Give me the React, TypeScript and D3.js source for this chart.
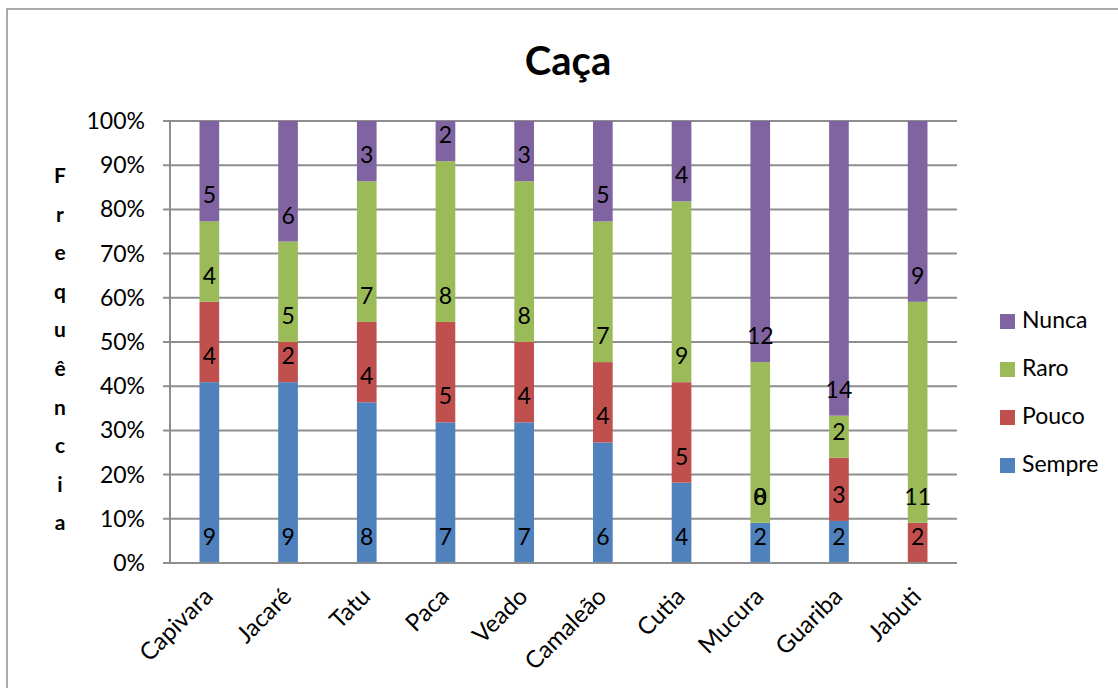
import React from "react";
import * as d3 from "d3";

// Hunting frequency per animal (counts of respondents)
const categories = ["Capivara", "Jacaré", "Tatu", "Paca", "Veado", "Camaleão", "Cutia", "Mucura", "Guariba", "Jabuti"];
const sempre: (number | null)[] = [9, 9, 8, 7, 7, 6, 4, 2, 2, null];
const pouco: (number | null)[] = [4, 2, 4, 5, 4, 4, 5, 0, 3, 2];
const raro: (number | null)[] = [4, 5, 7, 8, 8, 7, 9, 8, 2, 11];
const nunca: (number | null)[] = [5, 6, 3, 2, 3, 5, 4, 12, 14, 9];
const seriesNames = ["Sempre", "Pouco", "Raro", "Nunca"];
const seriesColors = ["#4F81BD", "#C0504D", "#9BBB59", "#8064A2"];
const yTicks = [0, 0.1, 0.2, 0.3, 0.4, 0.5, 0.6, 0.7, 0.8, 0.9, 1];
const title = "Caça";
const yTitle = "Frequência";

const W = 1118;
const H = 688;
const FONT = "Lato, 'Open Sans', sans-serif";
const GRID = "#8e8e8e";

export default function App() {
  const plot = { left: 170, right: 957, top: 121, bottom: 563 };

  const seriesValues = [sempre, pouco, raro, nunca];
  const rows = categories.map((c, i) => {
    const r: Record<string, any> = { cat: c };
    seriesNames.forEach((s, k) => (r[s] = seriesValues[k][i] ?? 0));
    return r;
  });
  const stacked = d3.stack<any>().keys(seriesNames).offset(d3.stackOffsetExpand)(rows);

  const x = d3.scaleBand<string>().domain(categories).range([plot.left, plot.right]).paddingInner(0.75).paddingOuter(0.375);
  const y = d3.scaleLinear().domain([0, 1]).range([plot.bottom, plot.top]);
  const pct = d3.format(".0%");

  return (
    <svg width={W} height={H} style={{ position: "absolute", left: 0, top: 0, background: "#fff" }} fontFamily={FONT}>
      {/* chart frame */}
      <path d={`M7,${H} V9 H${W}`} fill="none" stroke={GRID} strokeWidth={1.5} />

      <text x={568} y={75} textAnchor="middle" fontSize={40} fontWeight="bold" fill="#000">{title}</text>

      {/* gridlines and y ticks */}
      {yTicks.map((t) => (
        <g key={t}>
          <line x1={plot.left - 7} x2={plot.right} y1={y(t)} y2={y(t)} stroke={GRID} strokeWidth={2} />
          <text x={145} y={y(t) + 8} textAnchor="end" fontSize={23} fill="#000">{pct(t)}</text>
        </g>
      ))}
      <line x1={plot.left} x2={plot.left} y1={plot.top} y2={plot.bottom} stroke={GRID} strokeWidth={2} />

      {/* y axis title, letters stacked vertically */}
      {Array.from(yTitle).map((ch, i) => (
        <text key={i} x={60} y={183 + i * 38.6} textAnchor="middle" fontSize={21} fontWeight="bold" fill="#000">{ch}</text>
      ))}

      {/* bars */}
      {stacked.map((layer, k) => (
        <g key={layer.key} fill={seriesColors[k]}>
          {layer.map((d, i) => (
            <rect key={i} x={x(categories[i])} width={x.bandwidth()} y={y(d[1])} height={Math.max(0, y(d[0]) - y(d[1]))} />
          ))}
        </g>
      ))}

      {/* value labels, placed at the base of each segment */}
      {stacked.map((layer, k) => (
        <g key={layer.key + "-lbl"}>
          {layer.map((d, i) => {
            const v = seriesValues[k][i];
            if (v === null) return null;
            return (
              <text key={i} x={(x(categories[i]) ?? 0) + x.bandwidth() / 2} y={y(d[0]) - 18} textAnchor="middle" fontSize={23} fill="#000">{v}</text>
            );
          })}
        </g>
      ))}

      {/* category axis */}
      <line x1={plot.left} x2={plot.right} y1={plot.bottom} y2={plot.bottom} stroke={GRID} strokeWidth={2} />
      {categories.map((c) => {
        const cx = (x(c) ?? 0) + x.bandwidth() / 2 + 5;
        const cy = plot.bottom + 35;
        return (
          <text key={c} x={cx} y={cy} transform={`rotate(-45 ${cx} ${cy})`} textAnchor="end" fontSize={24} fill="#000">{c}</text>
        );
      })}

      {/* legend */}
      {seriesNames.slice().reverse().map((s, j) => {
        const k = seriesNames.length - 1 - j;
        const top = 314 + j * 48;
        return (
          <g key={s}>
            <rect x={1000} y={top} width={15} height={15} fill={seriesColors[k]} />
            <text x={1022} y={top + 14} fontSize={23} fill="#000">{s}</text>
          </g>
        );
      })}
    </svg>
  );
}
